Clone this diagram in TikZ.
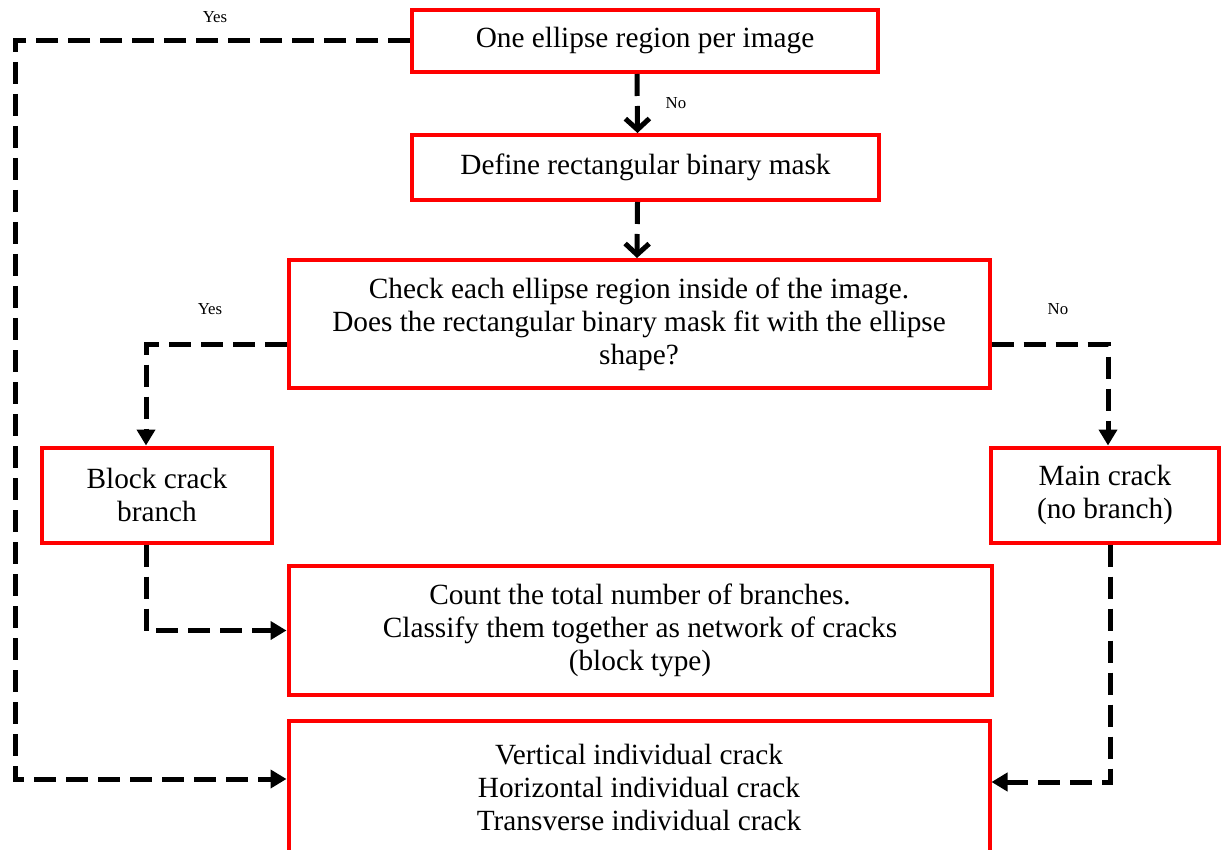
\documentclass[tikz,border=0pt]{standalone}
\usepackage{fontspec}
\setmainfont{Liberation Serif}
\usetikzlibrary{arrows.meta}

\begin{document}
\begin{tikzpicture}[x=0.5pt, y=-0.5pt,
  box/.style={draw=red, line width=2pt, align=center, inner sep=0pt,
    font=\fontsize{14.65}{16.5}\selectfont},
  link/.style={line width=2.5pt, dash pattern=on 11pt off 5pt,
    -{Triangle[length=8pt,width=9pt]}},
  barb/.style={line width=2.5pt, dash pattern=on 11pt off 5pt,
    -{Straight Barb[length=5.5pt,width=12pt]}},
  answer/.style={font=\fontsize{8.4}{10}\selectfont}]
  \useasboundingbox (0,0) rectangle (1221,850);
  % the boxes, top to bottom
  \node[box, minimum width=233pt, minimum height=31pt] (ellipse) at (645,41)
    {One ellipse region per image};
  \node[box, minimum width=233.5pt, minimum height=32.5pt] (mask) at (645.5,167.5)
    {Define rectangular binary mask};
  \node[box, minimum width=350.5pt, minimum height=64pt] (check) at (639,324)
    {Check each ellipse region inside of the image.\\
     Does the rectangular binary mask fit with the ellipse\\ shape?};
  \node[box, minimum width=115pt, minimum height=47.5pt] (block) at (157,495)
    {Block crack\\ branch};
  \node[box, minimum width=114pt, minimum height=47.5pt] (main) at (1105,495)
    {Main crack\\ (no branch)};
  \node[box, minimum width=351.5pt, minimum height=64.5pt] (count) at (640,630.5)
    {Count the total number of branches.\\
     Classify them together as network of cracks\\ (block type)};
  \node[box, minimum width=350.5pt, minimum height=66pt] (cracks) at (639,787)
    {Vertical individual crack\\ Horizontal individual crack\\
     Transverse individual crack};
  % the answers
  \node[answer] (yestop) at (215,17) {Yes};
  \node[answer] (notop) at (676,103) {No};
  \node[answer] (yesleft) at (210,309) {Yes};
  \node[answer] (noright) at (1058,309) {No};
  % the connectors
  \coordinate (edge) at (15,779);
  \draw[link] (ellipse.west) -| (edge) -- (edge -| cracks.west);
  \draw[barb] ([xshift=-4pt]ellipse.south) -- ([xshift=-4pt]mask.north);
  \draw[barb] ([xshift=-4pt]mask.south) -- ([xshift=-1pt]check.north);
  \draw[link] ([yshift=-10.5pt]check.west) -| ([xshift=-5.5pt]block.north);
  \draw[link] ([yshift=-10.5pt]check.east) -| ([xshift=1.5pt]main.north);
  \draw[link] ([xshift=-5.5pt]block.south) |- (count.west);
  \draw[link] ([xshift=2.5pt]main.south) |- ([yshift=2.5pt]cracks.east);
\end{tikzpicture}
\end{document}
